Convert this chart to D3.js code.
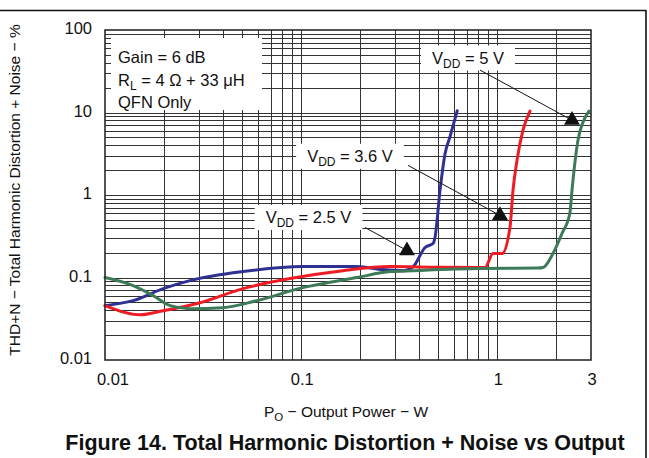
<!DOCTYPE html>
<html>
<head>
<meta charset="utf-8">
<script src="https://cdn.jsdelivr.net/npm/d3@7"></script>
<style>
  html, body { margin: 0; padding: 0; background: #fff; }
  svg { display: block; font-family: "Liberation Sans", Arial, Helvetica, sans-serif; }
</style>
</head>
<body>
<svg id="chart" width="649" height="458"></svg>
<script>
// ---------------- data ----------------
const xTickValues = [0.01, 0.1, 1, 3];
const xTickLabels = ["0.01", "0.1", "1", "3"];
const yTickValues = [100, 10, 1, 0.1, 0.01];
const yTickLabels = ["100", "10", "1", "0.1", "0.01"];

const seriesNames = ["VDD = 2.5 V", "VDD = 3.6 V", "VDD = 5 V"];

const power25 = [0.01, 0.0139, 0.0198, 0.0271, 0.0505, 0.102, 0.192, 0.261, 0.334, 0.372, 0.428, 0.471, 0.481, 0.51, 0.541, 0.573, 0.624];
const thd25   = [0.0456, 0.0524, 0.0733, 0.0917, 0.118, 0.1356, 0.1356, 0.1247, 0.121, 0.135, 0.231, 0.26, 0.308, 1.14, 3.17, 5.06, 10.5];

const power36 = [0.01, 0.0151, 0.0198, 0.0305, 0.0505, 0.0877, 0.163, 0.284, 0.5, 0.865, 0.95, 1.055, 1.159, 1.201, 1.259, 1.35, 1.466];
const thd36   = [0.0456, 0.0354, 0.0396, 0.0495, 0.0733, 0.097, 0.121, 0.1356, 0.133, 0.132, 0.195, 0.195, 0.404, 1.14, 2.63, 6.1, 10.4];

const power5 = [0.01, 0.0139, 0.0176, 0.0215, 0.0271, 0.0399, 0.0595, 0.102, 0.192, 0.284, 0.372, 0.815, 1.6, 1.708, 1.919, 2.134, 2.344, 2.4, 2.575, 2.73, 2.93];
const thd5   = [0.0998, 0.0797, 0.0603, 0.0456, 0.0419, 0.0431, 0.0524, 0.0754, 0.0998, 0.118, 0.121, 0.1284, 0.13, 0.132, 0.195, 0.3415, 0.615, 1.14, 4.61, 7.62, 10.4];

// annotation anchors (data units): label centre, arrow start, arrow tip
const annLabelP = [0.109, 0.1773, 0.708];
const annLabelT = [0.542, 2.985, 46.3];
const annStartP = [0.2115, 0.35, 0.815];
const annStartT = [0.404, 2.29, 32.7];
const annTipP   = [0.346, 1.031, 2.40];
const annTipT   = [0.212, 0.565, 8.06];
const annVolt   = ["2.5 V", "3.6 V", "5 V"];

const legendLines = ["Gain = 6 dB", "RL = 4 Ω + 33 μH", "QFN Only"];

const xTitle = "Output Power − W";
const yTitle = "THD+N − Total Harmonic Distortion + Noise − %";
const caption = "Figure 14. Total Harmonic Distortion + Noise vs Output";

// ---------------- layout ----------------
const svg = d3.select("#chart");
const L = 105, R = 591, T = 30, B = 360;
const x = d3.scaleLog().domain([0.01, 3]).range([L, R]);
const y = d3.scaleLog().domain([0.01, 100]).range([B, T]);

// frame lines (top + right)
svg.append("line").attr("x1", 0).attr("x2", 646).attr("y1", 10.5).attr("y2", 10.5)
  .attr("stroke", "#111").attr("stroke-width", 1.6);
svg.append("line").attr("x1", 646).attr("x2", 646).attr("y1", 10).attr("y2", 458)
  .attr("stroke", "#111").attr("stroke-width", 1.6);

// grid
const xGrid = [];
[0.01, 0.1, 1].forEach(d => { for (let k = 2; k <= 9; k++) { const v = d * k; if (v < 3) xGrid.push(v); } if (d > 0.01) xGrid.push(d); });
const yGrid = [];
[0.01, 0.1, 1, 10].forEach(d => { for (let k = 1; k <= 9; k++) { const v = d * k; if (v > 0.01) yGrid.push(v); } });

const g = svg.append("g");
g.selectAll(".vg").data(xGrid).enter().append("line")
  .attr("x1", d => Math.round(x(d)) + 0.5).attr("x2", d => Math.round(x(d)) + 0.5)
  .attr("y1", T).attr("y2", B).attr("stroke", "#333").attr("stroke-width", 1);
g.selectAll(".hg").data(yGrid).enter().append("line")
  .attr("y1", d => Math.round(y(d)) + 0.5).attr("y2", d => Math.round(y(d)) + 0.5)
  .attr("x1", L).attr("x2", R).attr("stroke", "#333").attr("stroke-width", 1);

// legend box
svg.append("rect").attr("x", 111).attr("y", 38).attr("width", 151).attr("height", 72).attr("fill", "#fff");
const legendText = svg.append("g").attr("font-size", 16.5).attr("fill", "#111");
legendText.append("text").attr("x", 118).attr("y", 63).text(legendLines[0]);
const rl = legendText.append("text").attr("x", 118).attr("y", 86);
rl.append("tspan").text("R");
rl.append("tspan").attr("font-size", 12).attr("dy", 4).text("L");
rl.append("tspan").attr("dy", -4).text(legendLines[1].slice(2));
legendText.append("text").attr("x", 118).attr("y", 108).text(legendLines[2]);

// curves
const colors = ["#2E3192", "#ED1C24", "#3D7A58"];
const series = [
  power25.map((p, i) => [p, thd25[i]]),
  power36.map((p, i) => [p, thd36[i]]),
  power5.map((p, i) => [p, thd5[i]])
];
const line = d3.line().x(d => x(d[0])).y(d => y(d[1])).curve(d3.curveMonotoneX);
svg.selectAll(".curve").data(series).enter().append("path")
  .attr("d", line).attr("fill", "none")
  .attr("stroke", (d, i) => colors[i]).attr("stroke-width", 3)
  .attr("stroke-linejoin", "round").attr("stroke-linecap", "round");

// annotations
annVolt.forEach((v, i) => {
  const cx = x(annLabelP[i]), cy = y(annLabelT[i]);
  const ag = svg.append("g");
  const bg = ag.append("rect").attr("fill", "#fff");
  const t = ag.append("text").attr("x", cx).attr("y", cy + 6).attr("text-anchor", "middle")
    .attr("font-size", 16.5).attr("fill", "#111");
  t.append("tspan").text("V");
  t.append("tspan").attr("font-size", 12).attr("dy", 4).text("DD");
  t.append("tspan").attr("dy", -4).text(" = " + v);
  const bb = t.node().getBBox();
  bg.attr("x", bb.x - 11).attr("y", cy - 12).attr("width", bb.width + 22).attr("height", 25);
  svg.append("line").attr("x1", x(annStartP[i])).attr("y1", y(annStartT[i]))
    .attr("x2", x(annTipP[i])).attr("y2", y(annTipT[i]))
    .attr("stroke", "#111").attr("stroke-width", 1);
  svg.append("path").attr("d", d3.symbol(d3.symbolTriangle, 110)())
    .attr("transform", `translate(${x(annTipP[i])},${y(annTipT[i])})`).attr("fill", "#111");
});

// plot border
svg.append("rect").attr("x", L).attr("y", T).attr("width", R - L).attr("height", B - T)
  .attr("fill", "none").attr("stroke", "#2a2a2a").attr("stroke-width", 1.6);

// tick labels
svg.selectAll(".yt").data(yTickValues).enter().append("text")
  .attr("x", 92).attr("y", d => y(d) + 4).attr("text-anchor", "end")
  .attr("font-size", 16.5).attr("fill", "#111").text((d, i) => yTickLabels[i]);
svg.selectAll(".xt").data(xTickValues).enter().append("text")
  .attr("x", (d, i) => x(d) + (i === 0 ? 8 : i === 1 ? 1 : 1))
  .attr("y", 385).attr("text-anchor", "middle")
  .attr("font-size", 16.5).attr("fill", "#111").text((d, i) => xTickLabels[i]);

// axis titles
const xt = svg.append("text").attr("x", 346).attr("y", 417).attr("text-anchor", "middle")
  .attr("font-size", 15.5).attr("fill", "#111");
xt.append("tspan").text("P");
xt.append("tspan").attr("font-size", 11.5).attr("dy", 4).text("O");
xt.append("tspan").attr("dy", -4).text(" − " + xTitle);

svg.append("text").attr("transform", "translate(20,190) rotate(-90)").attr("text-anchor", "middle")
  .attr("font-size", 15.5).attr("fill", "#111").text(yTitle);

svg.append("text").attr("x", 345).attr("y", 450).attr("text-anchor", "middle")
  .attr("font-size", 21.5).attr("font-weight", "bold").attr("fill", "#111").text(caption);
</script>
</body>
</html>
